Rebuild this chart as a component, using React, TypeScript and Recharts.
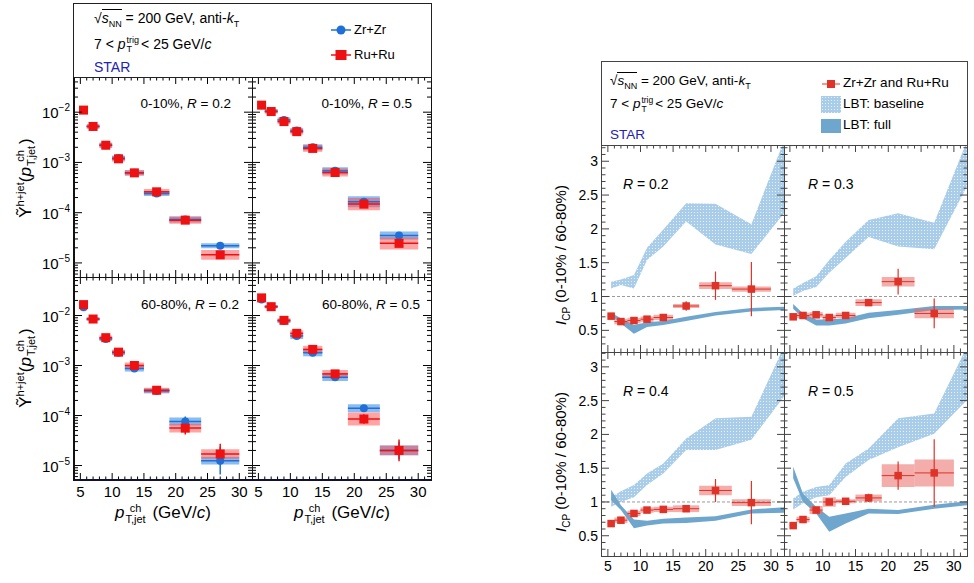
import React from 'react'
import { ComposedChart, Scatter, Area, XAxis, YAxis, ReferenceArea, ReferenceLine } from 'recharts'

const FONT = '"Liberation Sans", Arial, Helvetica, sans-serif'

// jet pT bins (GeV/c)
const binCenter = [5.5, 7, 9, 11, 13.5, 17, 21.5, 27]
const binLow = [5, 6, 8, 10, 12, 15, 19, 24]
const binHigh = [6, 8, 10, 12, 15, 19, 24, 30]

// h+jet yields, 0-10%
const zrC02 = [0.011, 0.0052, 0.0022, 0.00122, 0.00062, 0.00024, 7.3e-5, 2.2e-5]
const ruC02 = [0.011, 0.0052, 0.0022, 0.00118, 0.00062, 0.00026, 7.1e-5, 1.45e-5]
const zrC05 = [0.0138, 0.0105, 0.007, 0.0043, 0.002, 0.00068, 0.000165, 3.5e-5]
const ruC05 = [0.0138, 0.0103, 0.0065, 0.0041, 0.0019, 0.00063, 0.000148, 2.45e-5]
// h+jet yields, 60-80%
const zrP02 = [0.0147, 0.0085, 0.0034, 0.0018, 0.00087, 0.00031, 7.6e-5, 1.25e-5]
const ruP02 = [0.0165, 0.0085, 0.0036, 0.00185, 0.001, 0.00032, 5.6e-5, 1.7e-5]
const zrP05 = [0.021, 0.015, 0.0078, 0.0039, 0.0018, 0.00058, 0.00014, 2.0e-5]
const ruP05 = [0.0225, 0.015, 0.008, 0.0044, 0.0021, 0.00068, 8.5e-5, 2.0e-5]

// systematic (box) and statistical (bar) uncertainties, as multiplicative factors
const zrC02Sys = [1.08, 1.1, 1.12, 1.12, 1.12, 1.12, 1.15, 1.12]
const ruC02Sys = [1.08, 1.1, 1.12, 1.14, 1.14, 1.14, 1.18, 1.25]
const zrC05Sys = [1.08, 1.1, 1.12, 1.12, 1.15, 1.18, 1.28, 1.2]
const ruC05Sys = [1.08, 1.1, 1.12, 1.14, 1.17, 1.2, 1.32, 1.32]
const zrP02Sys = [1.08, 1.08, 1.1, 1.12, 1.15, 1.12, 1.2, 1.2]
const ruP02Sys = [1.08, 1.08, 1.1, 1.12, 1.15, 1.12, 1.22, 1.25]
const zrP05Sys = [1.08, 1.08, 1.1, 1.15, 1.18, 1.18, 1.2, 1.25]
const ruP05Sys = [1.08, 1.08, 1.1, 1.15, 1.18, 1.2, 1.35, 1.25]
const zrC02Stat = [1.02, 1.02, 1.02, 1.03, 1.03, 1.05, 1.08, 1.1]
const ruC02Stat = [1.02, 1.02, 1.02, 1.03, 1.03, 1.05, 1.1, 1.12]
const zrC05Stat = [1.02, 1.02, 1.02, 1.03, 1.03, 1.05, 1.08, 1.12]
const ruC05Stat = [1.02, 1.02, 1.02, 1.03, 1.03, 1.05, 1.1, 1.15]
const zrP02Stat = [1.02, 1.02, 1.03, 1.03, 1.05, 1.06, 1.25, 1.9]
const ruP02Stat = [1.02, 1.02, 1.03, 1.03, 1.05, 1.06, 1.35, 1.6]
const zrP05Stat = [1.02, 1.02, 1.03, 1.04, 1.05, 1.06, 1.12, 1.5]
const ruP05Stat = [1.02, 1.02, 1.03, 1.04, 1.05, 1.06, 1.25, 1.65]

// I_CP (0-10% / 60-80%)
const icp02 = [0.71, 0.63, 0.645, 0.665, 0.69, 0.86, 1.16, 1.11]
const icp03 = [0.7, 0.72, 0.73, 0.69, 0.72, 0.91, 1.22, 0.75]
const icp04 = [0.68, 0.73, 0.83, 0.88, 0.89, 0.9, 1.17, 0.99]
const icp05 = [0.65, 0.74, 0.88, 1.0, 1.01, 1.06, 1.39, 1.43]
const icp02Stat = [0.02, 0.02, 0.02, 0.02, 0.03, 0.07, 0.21, 0.4]
const icp03Stat = [0.02, 0.02, 0.03, 0.03, 0.03, 0.05, 0.19, 0.22]
const icp04Stat = [0.02, 0.02, 0.03, 0.03, 0.03, 0.05, 0.17, 0.32]
const icp05Stat = [0.02, 0.02, 0.03, 0.04, 0.04, 0.06, 0.21, 0.5]
const icp02Sys = [0.04, 0.04, 0.04, 0.04, 0.04, 0.03, 0.05, 0.04]
const icp03Sys = [0.04, 0.04, 0.04, 0.04, 0.04, 0.05, 0.07, 0.07]
const icp04Sys = [0.04, 0.04, 0.04, 0.04, 0.04, 0.05, 0.07, 0.05]
const icp05Sys = [0.02, 0.04, 0.06, 0.07, 0.03, 0.05, 0.17, 0.2]

// LBT model bands
const bandX = [5.5, 7, 9, 11, 13.5, 17, 21.5, 27, 32]
const base02Lo = [1.12, 1.17, 1.12, 1.54, 1.74, 2.11, 1.77, 1.63, 2.23]
const base02Hi = [1.22, 1.25, 1.32, 1.72, 1.99, 2.38, 2.37, 2.07, 3.3]
const full02Lo = [0.72, 0.6, 0.45, 0.55, 0.58, 0.64, 0.72, 0.78, 0.8]
const full02Hi = [0.76, 0.68, 0.58, 0.62, 0.64, 0.7, 0.77, 0.83, 0.85]
const base03Lo = [1.01, 1.08, 1.14, 1.35, 1.57, 1.88, 1.74, 1.7, 2.63]
const base03Hi = [1.12, 1.2, 1.3, 1.54, 1.81, 2.13, 2.23, 2.09, 3.3]
const full03Lo = [0.82, 0.68, 0.57, 0.57, 0.6, 0.68, 0.73, 0.8, 0.81]
const full03Hi = [0.89, 0.75, 0.66, 0.66, 0.68, 0.76, 0.8, 0.86, 0.86]
const base04Lo = [0.93, 1.0, 1.07, 1.25, 1.42, 1.77, 1.77, 1.92, 2.56]
const base04Hi = [1.07, 1.16, 1.25, 1.42, 1.57, 1.94, 2.24, 2.26, 3.3]
const full04Lo = [1.03, 0.88, 0.61, 0.65, 0.68, 0.69, 0.72, 0.83, 0.84]
const full04Hi = [1.18, 0.95, 0.74, 0.72, 0.75, 0.77, 0.79, 0.89, 0.92]
const base05Lo = [0.89, 0.98, 1.07, 1.1, 1.37, 1.62, 1.81, 2.01, 2.51]
const base05Hi = [1.05, 1.15, 1.22, 1.25, 1.57, 1.79, 2.24, 2.31, 3.3]
const full05Lo = [1.35, 1.0, 0.83, 0.56, 0.68, 0.83, 0.82, 0.9, 0.95]
const full05Hi = [1.52, 1.12, 0.93, 0.78, 0.83, 0.9, 0.88, 0.96, 1.01]

// axis ticks
const xTicks = Array.from({ length: 27 }, (_, i) => 5 + i)
const logMajors = [1e-5, 1e-4, 1e-3, 1e-2]
const logSteps = [2, 3, 4, 5, 6, 7, 8, 9]
const logDecades = [1e-6, 1e-5, 1e-4, 1e-3, 1e-2]
const icpTicks = Array.from({ length: 30 }, (_, i) => (3 + i) / 10)
const icpLabels = ['0.5', '1', '1.5', '2', '2.5', '3']

const BLUE = '#1f6fd6'
const RED = '#ee1111'
const RED2 = '#de3328'

const makeXTick = (h: number, show: boolean, fs: number, color: string, gap: number) => (p: any) => {
  const v = p.payload.value
  const major = v % 5 === 0
  const len = major ? 7 : 3.5
  return (
    <g>
      <line x1={p.x} x2={p.x} y1={p.y} y2={p.y - len} stroke={color} />
      <line x1={p.x} x2={p.x} y1={p.y - h} y2={p.y - h + len} stroke={color} />
      {show && major && (
        <text x={p.x} y={p.y + gap} textAnchor="middle" fontSize={fs} fill="#000" fontFamily={FONT}>{v}</text>
      )}
    </g>
  )
}

const makeLogTick = (w: number, show: boolean) => (p: any) => {
  const v = p.payload.value
  const major = logMajors.includes(v)
  const len = major ? 8 : 4
  const exp = Math.round(Math.log10(v))
  return (
    <g>
      <line x1={p.x} x2={p.x + len} y1={p.y} y2={p.y} stroke="#000" />
      <line x1={p.x + w} x2={p.x + w - len} y1={p.y} y2={p.y} stroke="#000" />
      {show && major && (
        <text x={p.x - 4} y={p.y + 6} textAnchor="end" fontSize={15} fill="#000" fontFamily={FONT}>
          10<tspan dy={-7} fontSize={10}>{'\u2212' + Math.abs(exp)}</tspan>
        </text>
      )}
    </g>
  )
}

const makeIcpTick = (w: number, show: boolean) => (p: any) => {
  const v = p.payload.value
  const k = Math.round(v * 10)
  const major = k % 5 === 0
  const len = major ? 7 : 3.5
  return (
    <g>
      <line x1={p.x} x2={p.x + len} y1={p.y} y2={p.y} stroke="#444" />
      <line x1={p.x + w} x2={p.x + w - len} y1={p.y} y2={p.y} stroke="#444" />
      {show && major && (
        <text x={p.x - 4} y={p.y + 5} textAnchor="end" fontSize={14} fill="#000" fontFamily={FONT}>{icpLabels[k / 5 - 1]}</text>
      )}
    </g>
  )
}

const squareShape = (size: number, color: string) => (p: any) => (
  <rect x={p.cx - size / 2} y={p.cy - size / 2} width={size} height={size} fill={color} />
)
const circleShape = (r: number, color: string) => (p: any) => <circle cx={p.cx} cy={p.cy} r={r} fill={color} />

const PAD = 50
const BPAD = 30

function YieldPanel(props: {
  left: number; top: number; w: number; h: number; yDomain: [number, number]
  zr: number[]; ru: number[]; zrSys: number[]; ruSys: number[]; zrStat: number[]; ruStat: number[]
  showX: boolean; showY: boolean
}) {
  const { left, top, w, h, yDomain, zr, ru, zrSys, ruSys, zrStat, ruStat, showX, showY } = props
  const ticks: number[] = []
  logDecades.forEach((d) => {
    if (d >= yDomain[0] && d <= yDomain[1]) ticks.push(d)
    logSteps.forEach((s) => {
      const t = d * s
      if (t >= yDomain[0] && t <= yDomain[1]) ticks.push(t)
    })
  })
  const zrPts = binCenter.map((x, i) => ({ x, y: zr[i] }))
  const ruPts = binCenter.map((x, i) => ({ x, y: ru[i] }))
  return (
    <div style={{ position: 'absolute', left: left - PAD, top }}>
      <ComposedChart width={w + PAD + 2} height={h + BPAD} margin={{ top: 0, right: 2, bottom: 0, left: 0 }}>
        <XAxis type="number" dataKey="x" domain={[4, 32]} allowDataOverflow ticks={xTicks} interval={0}
          tickLine={false} axisLine={false} tickSize={0} tickMargin={0} height={BPAD}
          tick={makeXTick(h, showX, 15, '#000', 17)} />
        <YAxis type="number" dataKey="y" scale="log" domain={yDomain} allowDataOverflow ticks={ticks} interval={0}
          tickLine={false} axisLine={false} tickSize={0} tickMargin={0} width={PAD}
          tick={makeLogTick(w, showY)} />
        {binCenter.map((_, i) => (
          <ReferenceArea key={'zb' + i} x1={binLow[i]} x2={binHigh[i]} y1={zr[i] / zrSys[i]} y2={zr[i] * zrSys[i]}
            fill="#3d8fe6" fillOpacity={0.6} stroke="none" ifOverflow="hidden" />
        ))}
        {binCenter.map((_, i) => (
          <ReferenceArea key={'rb' + i} x1={binLow[i]} x2={binHigh[i]} y1={ru[i] / ruSys[i]} y2={ru[i] * ruSys[i]}
            fill="#ff4a4a" fillOpacity={0.5} stroke="none" ifOverflow="hidden" />
        ))}
        {binCenter.map((x, i) => (
          <ReferenceLine key={'zh' + i} segment={[{ x: binLow[i], y: zr[i] }, { x: binHigh[i], y: zr[i] }]}
            stroke={BLUE} strokeWidth={1.5} ifOverflow="hidden" />
        ))}
        {binCenter.map((x, i) => (
          <ReferenceLine key={'zv' + i} segment={[{ x, y: zr[i] / zrStat[i] }, { x, y: zr[i] * zrStat[i] }]}
            stroke={BLUE} strokeWidth={1.5} ifOverflow="hidden" />
        ))}
        {binCenter.map((x, i) => (
          <ReferenceLine key={'rh' + i} segment={[{ x: binLow[i], y: ru[i] }, { x: binHigh[i], y: ru[i] }]}
            stroke={RED} strokeWidth={1.5} ifOverflow="hidden" />
        ))}
        {binCenter.map((x, i) => (
          <ReferenceLine key={'rv' + i} segment={[{ x, y: ru[i] / ruStat[i] }, { x, y: ru[i] * ruStat[i] }]}
            stroke={RED} strokeWidth={1.5} ifOverflow="hidden" />
        ))}
        <Scatter data={zrPts} fill={BLUE} shape={circleShape(4, BLUE)} isAnimationActive={false} />
        <Scatter data={ruPts} fill={RED} shape={squareShape(9, RED)} isAnimationActive={false} />
      </ComposedChart>
    </div>
  )
}

function IcpPanel(props: {
  id: string; left: number; top: number; w: number; h: number; yDomain: [number, number]
  icp: number[]; stat: number[]; sys: number[]
  baseLo: number[]; baseHi: number[]; fullLo: number[]; fullHi: number[]
  showX: boolean; showY: boolean
}) {
  const { id, left, top, w, h, yDomain, icp, stat, sys, baseLo, baseHi, fullLo, fullHi, showX, showY } = props
  const rows = bandX.map((x, i) => ({ x, base: [baseLo[i], baseHi[i]], full: [fullLo[i], fullHi[i]] }))
  const pts = binCenter.map((x, i) => ({ x, y: icp[i] }))
  return (
    <div style={{ position: 'absolute', left: left - PAD, top }}>
      <ComposedChart width={w + PAD + 2} height={h + BPAD} data={rows} margin={{ top: 0, right: 2, bottom: 0, left: 0 }}>
        <defs>
          <pattern id={'hatch' + id} width="3" height="3" patternUnits="userSpaceOnUse">
            <rect width="3" height="3" fill="#a9cde8" />
            <rect x="1" y="1" width="1" height="1" fill="#e6f1fa" />
          </pattern>
        </defs>
        <XAxis type="number" dataKey="x" domain={[4.1, 32]} allowDataOverflow ticks={xTicks} interval={0}
          tickLine={false} axisLine={false} tickSize={0} tickMargin={0} height={BPAD}
          tick={makeXTick(h, showX, 14, '#444', 15)} />
        <YAxis type="number" dataKey="y" domain={yDomain} allowDataOverflow ticks={icpTicks} interval={0}
          tickLine={false} axisLine={false} tickSize={0} tickMargin={0} width={PAD}
          tick={makeIcpTick(w, showY)} />
        <Area type="linear" dataKey="base" stroke="none" fill={'url(#hatch' + id + ')'} fillOpacity={1} isAnimationActive={false} />
        <Area type="linear" dataKey="full" stroke="none" fill="#6fa6ce" fillOpacity={1} isAnimationActive={false} />
        <ReferenceLine y={1} stroke="#9a9a9a" strokeDasharray="3 2" />
        {binCenter.map((_, i) => (
          <ReferenceArea key={'b' + i} x1={binLow[i]} x2={binHigh[i]} y1={icp[i] - sys[i]} y2={icp[i] + sys[i]}
            fill="#ea6a64" fillOpacity={0.55} stroke="none" ifOverflow="hidden" />
        ))}
        {binCenter.map((x, i) => (
          <ReferenceLine key={'h' + i} segment={[{ x: binLow[i], y: icp[i] }, { x: binHigh[i], y: icp[i] }]}
            stroke={RED2} strokeWidth={1} ifOverflow="hidden" />
        ))}
        {binCenter.map((x, i) => (
          <ReferenceLine key={'v' + i} segment={[{ x, y: icp[i] - stat[i] }, { x, y: icp[i] + stat[i] }]}
            stroke={RED2} strokeWidth={1.2} ifOverflow="hidden" />
        ))}
        <Scatter data={pts} fill={RED2} shape={squareShape(7.5, RED2)} isAnimationActive={false} />
      </ComposedChart>
    </div>
  )
}

const SupSub = ({ sup, sub, fs }: { sup: string; sub: string; fs: number }) => (
  <span style={{ display: 'inline-flex', flexDirection: 'column', verticalAlign: 'middle', fontSize: fs, lineHeight: 1, marginLeft: 1, marginRight: 2 }}>
    <span>{sup}</span>
    <span>{sub}</span>
  </span>
)

const SqrtS = () => (
  <span>
    √<span style={{ borderTop: '1px solid #000' }}><i>s</i><sub style={{ fontSize: 9 }}>NN</sub></span>
  </span>
)

const HeaderText = ({ top }: { top: number }) => (
  <>
    <div style={{ position: 'absolute', left: 20, top, fontSize: 14, whiteSpace: 'nowrap' }}>
      <SqrtS /> = 200 GeV, anti-<i>k</i><sub style={{ fontSize: 9 }}>T</sub>
    </div>
  </>
)

const frame = (left: number, top: number, w: number, h: number, color: string, extra: React.CSSProperties = {}) => (
  <div style={{ position: 'absolute', left, top, width: w, height: h, boxSizing: 'border-box', border: '1px solid ' + color, pointerEvents: 'none', ...extra }} />
)

export default function App() {
  const txt: React.CSSProperties = { position: 'absolute', whiteSpace: 'nowrap', fontFamily: FONT, color: '#000' }
  return (
    <div style={{ position: 'fixed', left: 0, top: 0, width: 974, height: 583, background: '#fff', fontFamily: FONT, overflow: 'hidden' }}>
      {/* left figure: yields */}
      <YieldPanel left={74} top={77} w={178} h={200} yDomain={[Math.pow(10, -5.28), Math.pow(10, -1.3)]}
        zr={zrC02} ru={ruC02} zrSys={zrC02Sys} ruSys={ruC02Sys} zrStat={zrC02Stat} ruStat={ruC02Stat} showX={false} showY />
      <YieldPanel left={252} top={77} w={179} h={200} yDomain={[Math.pow(10, -5.28), Math.pow(10, -1.3)]}
        zr={zrC05} ru={ruC05} zrSys={zrC05Sys} ruSys={ruC05Sys} zrStat={zrC05Stat} ruStat={ruC05Stat} showX={false} showY={false} />
      <YieldPanel left={74} top={277} w={178} h={203} yDomain={[Math.pow(10, -5.29), Math.pow(10, -1.23)]}
        zr={zrP02} ru={ruP02} zrSys={zrP02Sys} ruSys={ruP02Sys} zrStat={zrP02Stat} ruStat={ruP02Stat} showX showY />
      <YieldPanel left={252} top={277} w={179} h={203} yDomain={[Math.pow(10, -5.29), Math.pow(10, -1.23)]}
        zr={zrP05} ru={ruP05} zrSys={zrP05Sys} ruSys={ruP05Sys} zrStat={zrP05Stat} ruStat={ruP05Stat} showX showY={false} />
      {frame(73, 77, 180, 201, '#111', { borderLeftWidth: 2 })}
      {frame(252, 77, 180, 201, '#111')}
      {frame(73, 277, 180, 204, '#111', { borderLeftWidth: 2, borderBottom: '2px solid #111133' })}
      {frame(252, 277, 180, 204, '#111', { borderBottom: '2px solid #111133' })}

      {/* left header box */}
      <div style={{ position: 'absolute', left: 73, top: 3, width: 359, height: 75, boxSizing: 'border-box', border: '1px solid #222' }}>
        <HeaderText top={6} />
        <div style={{ ...txt, left: 20, top: 32, fontSize: 14 }}>
          7 &lt; <i>p</i><SupSub sup="trig" sub="T" fs={9} />&lt; 25 GeV/<i>c</i>
        </div>
        <div style={{ ...txt, left: 20, top: 55, fontSize: 14, color: '#2323b0' }}>STAR</div>
        <svg style={{ position: 'absolute', left: 256, top: 19 }} width={22} height={14}>
          <line x1={1} x2={21} y1={7} y2={7} stroke={BLUE} strokeWidth={1.5} />
          <circle cx={11} cy={7} r={4.5} fill={BLUE} />
        </svg>
        <div style={{ ...txt, left: 280, top: 18, fontSize: 13 }}>Zr+Zr</div>
        <svg style={{ position: 'absolute', left: 256, top: 44 }} width={22} height={14}>
          <line x1={1} x2={21} y1={7} y2={7} stroke={RED} strokeWidth={1.5} />
          <rect x={5.5} y={2} width={11} height={10} fill={RED} />
        </svg>
        <div style={{ ...txt, left: 280, top: 43, fontSize: 13 }}>Ru+Ru</div>
      </div>

      {/* panel labels, left */}
      <div style={{ ...txt, right: 974 - 231, top: 96, fontSize: 13.5 }}>0-10%, <i>R</i> = 0.2</div>
      <div style={{ ...txt, right: 974 - 412, top: 96, fontSize: 13.5 }}>0-10%, <i>R</i> = 0.5</div>
      <div style={{ ...txt, right: 974 - 239, top: 297, fontSize: 13.5 }}>60-80%, <i>R</i> = 0.2</div>
      <div style={{ ...txt, right: 974 - 420, top: 297, fontSize: 13.5 }}>60-80%, <i>R</i> = 0.5</div>

      {/* left y titles */}
      {[178, 368].map((cy) => (
        <div key={cy} style={{ ...txt, left: 27 - 100, top: cy - 13, width: 200, height: 26, textAlign: 'center', fontSize: 17, transform: 'rotate(-90deg)' }}>
          Ỹ<sup style={{ fontSize: 11 }}>h+jet</sup>(<i>p</i><SupSub sup="ch" sub="T,jet" fs={11} />)
        </div>
      ))}
      {/* left x titles */}
      {[163, 342].map((cx) => (
        <div key={cx} style={{ ...txt, left: cx - 80, top: 503, width: 160, textAlign: 'center', fontSize: 17 }}>
          <i>p</i><SupSub sup="ch" sub="T,jet" fs={11} /> (GeV/<i>c</i>)
        </div>
      ))}

      {/* right figure: I_CP */}
      <IcpPanel id="a" left={602} top={145} w={182} h={207} yDomain={[0.18, 3.24]} icp={icp02} stat={icp02Stat} sys={icp02Sys}
        baseLo={base02Lo} baseHi={base02Hi} fullLo={full02Lo} fullHi={full02Hi} showX={false} showY />
      <IcpPanel id="b" left={784} top={145} w={183} h={207} yDomain={[0.18, 3.24]} icp={icp03} stat={icp03Stat} sys={icp03Sys}
        baseLo={base03Lo} baseHi={base03Hi} fullLo={full03Lo} fullHi={full03Hi} showX={false} showY={false} />
      <IcpPanel id="c" left={602} top={352} w={182} h={204} yDomain={[0.2, 3.22]} icp={icp04} stat={icp04Stat} sys={icp04Sys}
        baseLo={base04Lo} baseHi={base04Hi} fullLo={full04Lo} fullHi={full04Hi} showX showY />
      <IcpPanel id="d" left={784} top={352} w={183} h={204} yDomain={[0.2, 3.22]} icp={icp05} stat={icp05Stat} sys={icp05Sys}
        baseLo={base05Lo} baseHi={base05Hi} fullLo={full05Lo} fullHi={full05Hi} showX showY={false} />
      {frame(601, 145, 184, 208, '#444')}
      {frame(784, 145, 184, 208, '#444')}
      {frame(601, 352, 184, 205, '#444')}
      {frame(784, 352, 184, 205, '#444')}

      {/* right header box */}
      <div style={{ position: 'absolute', left: 601, top: 61, width: 367, height: 85, boxSizing: 'border-box', border: '1px solid #444' }}>
        <div style={{ ...txt, left: 8, top: 11, fontSize: 13.5 }}>
          <SqrtS /> = 200 GeV, anti-<i>k</i><sub style={{ fontSize: 9 }}>T</sub>
        </div>
        <div style={{ ...txt, left: 8, top: 34, fontSize: 13.5 }}>
          7 &lt; <i>p</i><SupSub sup="trig" sub="T" fs={8.5} />&lt; 25 GeV/<i>c</i>
        </div>
        <div style={{ ...txt, left: 8, top: 65, fontSize: 13.5, color: '#2323b0' }}>STAR</div>
        <svg style={{ position: 'absolute', left: 219, top: 15 }} width={20} height={14}>
          <line x1={1} x2={19} y1={7} y2={7} stroke={RED2} strokeWidth={1} />
          <rect x={6} y={3} width={8} height={8} fill={RED2} />
        </svg>
        <div style={{ ...txt, left: 241, top: 13, fontSize: 13.5 }}>Zr+Zr and Ru+Ru</div>
        <svg style={{ position: 'absolute', left: 219, top: 34 }} width={20} height={17}>
          <defs>
            <pattern id="hatchLeg" width="3" height="3" patternUnits="userSpaceOnUse">
              <rect width="3" height="3" fill="#a9cde8" />
              <rect x="1" y="1" width="1" height="1" fill="#e6f1fa" />
            </pattern>
          </defs>
          <rect x={0} y={0} width={20} height={17} fill="url(#hatchLeg)" />
        </svg>
        <div style={{ ...txt, left: 241, top: 34, fontSize: 13.5 }}>LBT: baseline</div>
        <svg style={{ position: 'absolute', left: 219, top: 57 }} width={20} height={14}>
          <rect x={0} y={0} width={20} height={14} fill="#6fa6ce" />
        </svg>
        <div style={{ ...txt, left: 241, top: 55, fontSize: 13.5 }}>LBT: full</div>
      </div>

      {/* panel labels, right */}
      <div style={{ ...txt, left: 623, top: 176, fontSize: 14 }}><i>R</i> = 0.2</div>
      <div style={{ ...txt, left: 808, top: 176, fontSize: 14 }}><i>R</i> = 0.3</div>
      <div style={{ ...txt, left: 623, top: 383, fontSize: 14 }}><i>R</i> = 0.4</div>
      <div style={{ ...txt, left: 808, top: 383, fontSize: 14 }}><i>R</i> = 0.5</div>

      {/* right y titles */}
      {[255, 462].map((cy) => (
        <div key={cy} style={{ ...txt, left: 563 - 100, top: cy - 11, width: 200, height: 22, textAlign: 'center', fontSize: 15, transform: 'rotate(-90deg)' }}>
          <i>I</i><sub style={{ fontSize: 10 }}>CP</sub> (0-10% / 60-80%)
        </div>
      ))}
    </div>
  )
}
